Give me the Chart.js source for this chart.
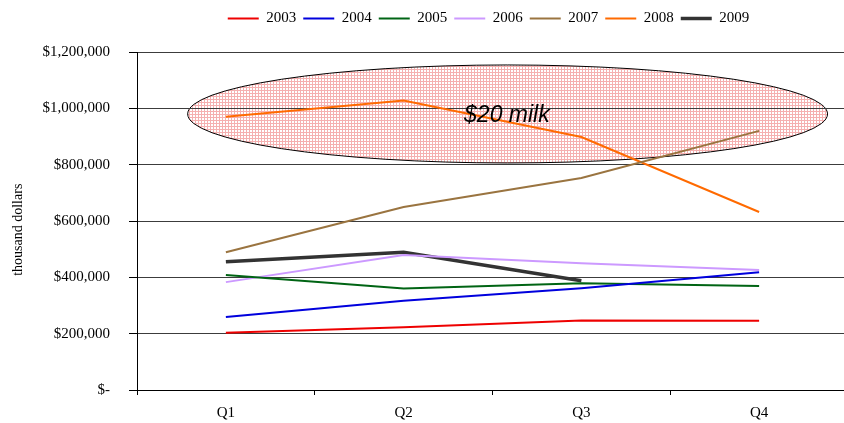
<!DOCTYPE html>
<html>
<head>
<meta charset="utf-8">
<script src="https://cdn.jsdelivr.net/npm/chart.js@4/dist/chart.umd.min.js"></script>
<style>
  html, body { margin: 0; padding: 0; background: #ffffff; overflow: hidden; }
  #wrap { position: relative; width: 850px; height: 423px; }
</style>
</head>
<body>
<div id="wrap"><canvas id="c"></canvas></div>
<script>
const categories = ['Q1', 'Q2', 'Q3', 'Q4'];
const yTickValues = [0, 200000, 400000, 600000, 800000, 1000000, 1200000];
const seriesNames = ['2003', '2004', '2005', '2006', '2007', '2008', '2009'];
const s2003 = [203000, 223000, 247000, 246000];
const s2004 = [259000, 317000, 361000, 418000];
const s2005 = [408000, 360000, 379000, 369000];
const s2006 = [383000, 479000, 450000, 426000];
const s2007 = [489000, 650000, 753000, 920000];
const s2008 = [970000, 1028000, 898000, 632000];
const s2009 = [455000, 489000, 388000, null];
const seriesColors = ['#ee0000', '#0000dd', '#006414', '#cc99ff', '#9a7440', '#ff6a00', '#333333'];
const seriesWidths = [2, 2, 2, 2, 2, 2, 3.5];
const annotationText = '$20 milk';
const axisTitle = 'thousand dollars     ';

const allSeries = [s2003, s2004, s2005, s2006, s2007, s2008, s2009];

function makePattern() {
  const p = document.createElement('canvas');
  p.width = 3; p.height = 3;
  const g = p.getContext('2d');
  g.fillStyle = '#ffffff';
  g.fillRect(0, 0, 3, 3);
  g.fillStyle = '#f5b0b0';
  g.fillRect(0, 0, 3, 1);
  g.fillRect(0, 0, 1, 3);
  return document.getElementById('c').getContext('2d').createPattern(p, 'repeat');
}

const layoutPlugin = {
  id: 'legendSpace',
  beforeLayout(chart) {
    const lg = chart.legend;
    if (lg && !lg._patched) {
      const f = lg.fit.bind(lg);
      lg.fit = function () { f(); this.height += 16; };
      lg._patched = true;
    }
  },
  afterLayout(chart) {
    if (chart.legend) chart.legend.left = chart.chartArea.left - 8;
  }
};

const ellipsePlugin = {
  id: 'milkEllipse',
  beforeDraw(chart) {
    const x = chart.scales.x, y = chart.scales.y, ctx = chart.ctx;
    const cx = x.getPixelForValue(1.585);
    const rx = x.getPixelForValue(1.585 + 1.8) - cx;
    const cy = y.getPixelForValue(980000);
    const ry = cy - y.getPixelForValue(980000 + 174000);
    ctx.save();
    ctx.beginPath();
    ctx.ellipse(cx, cy, rx, ry, 0, 0, Math.PI * 2);
    ctx.fillStyle = makePattern();
    ctx.fill();
    ctx.lineWidth = 1;
    ctx.strokeStyle = '#000000';
    ctx.stroke();
    ctx.restore();
  },
  afterDatasetsDraw(chart) {
    const x = chart.scales.x, y = chart.scales.y, ctx = chart.ctx;
    ctx.save();
    ctx.font = 'italic 23px "Liberation Sans", Arial, sans-serif';
    ctx.fillStyle = '#000000';
    ctx.textBaseline = 'alphabetic';
    ctx.textAlign = 'left';
    ctx.fillText(annotationText, x.getPixelForValue(1.34), y.getPixelForValue(950000));
    ctx.restore();
  }
};

const datasets = seriesNames.map((n, i) => ({
  label: n,
  data: allSeries[i],
  borderColor: seriesColors[i],
  backgroundColor: seriesColors[i],
  borderWidth: seriesWidths[i],
  pointRadius: 0,
  pointHoverRadius: 0,
  tension: 0,
  fill: false,
  spanGaps: false
}));

function money(v) {
  if (v === 0) return '$-';
  return '$' + v.toLocaleString('en-US');
}

new Chart(document.getElementById('c'), {
  type: 'line',
  data: { labels: categories, datasets },
  plugins: [layoutPlugin, ellipsePlugin],
  options: {
    responsive: true,
    maintainAspectRatio: false,
    animation: false,
    layout: { padding: { left: 0, right: 2, top: 4, bottom: 0 } },
    plugins: {
      tooltip: { enabled: false },
      legend: {
        position: 'top',
        labels: {
          usePointStyle: true,
          pointStyle: 'line',
          pointStyleWidth: 31,
          boxHeight: 15,
          padding: 7,
          color: '#000000',
          font: { family: '"Liberation Serif", "Times New Roman", serif', size: 15 }
        }
      }
    },
    scales: {
      x: {
        type: 'category',
        offset: true,
        grid: { display: true, offset: true, drawOnChartArea: false, drawTicks: true, tickLength: 5, color: '#000000' },
        border: { display: true, color: '#000000', width: 1 },
        ticks: { color: '#000000', padding: 9, font: { family: '"Liberation Serif", "Times New Roman", serif', size: 15 } },
        afterFit(s) { s.height = 33; }
      },
      y: {
        min: 0,
        max: 1200000,
        afterBuildTicks(s) { s.ticks = yTickValues.map(v => ({ value: v })); },
        grid: { color: '#3c3c3c', lineWidth: 1, drawTicks: true, tickLength: 8, tickColor: '#000000' },
        border: { display: true, color: '#000000', width: 1 },
        ticks: {
          color: '#000000',
          padding: 19,
          font: { family: '"Liberation Serif", "Times New Roman", serif', size: 15 },
          callback: (v) => money(v)
        },
        title: {
          display: true,
          text: axisTitle,
          color: '#000000',
          padding: { top: 10, bottom: 0 },
          font: { family: '"Liberation Serif", "Times New Roman", serif', size: 14 }
        },
        afterFit(s) { s.width = 137; }
      }
    }
  }
});
</script>
</body>
</html>
